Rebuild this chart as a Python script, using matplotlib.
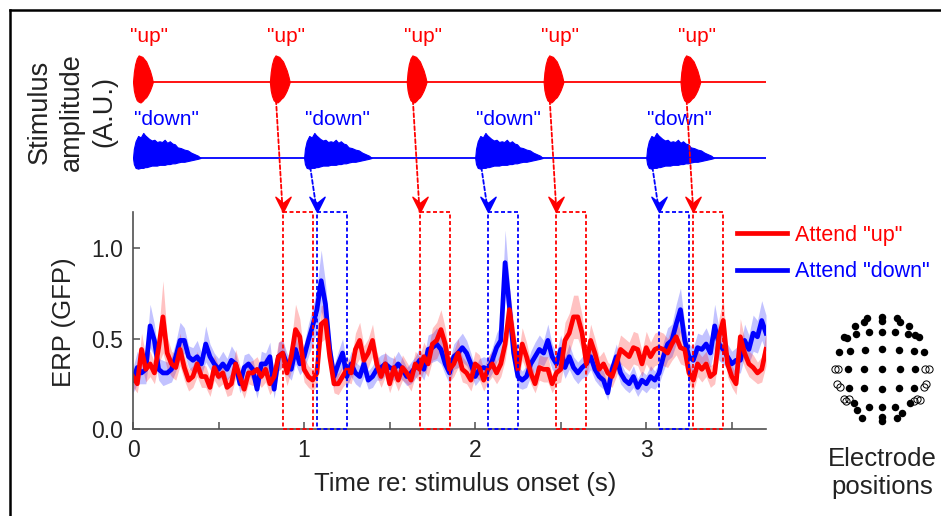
import numpy as np
import matplotlib
matplotlib.use("Agg")
import matplotlib.pyplot as plt
from matplotlib.patches import Rectangle, ConnectionPatch
from matplotlib.lines import Line2D
from matplotlib.path import Path

plt.rcParams["font.family"] = ["Liberation Sans", "DejaVu Sans"]

RED = "#ff0000"
BLUE = "#0000ff"
GREY = "#505050"

# ─────────────────────────────────────────────────────────────────
# DATA
# ─────────────────────────────────────────────────────────────────

UP_ONSETS = [0.0, 0.8, 1.6, 2.4, 3.2]
DOWN_ONSETS = [0.0, 1.0, 2.0, 3.0]

# syllable envelopes (A.U.), time re: syllable onset
UP_ENV_T = [0, 0.005, 0.012, 0.022, 0.033, 0.044, 0.055, 0.066, 0.077, 0.088, 0.099, 0.109, 0.116]
UP_ENV_HI = [0.0, 0.13, 0.23, 0.31, 0.35, 0.34, 0.33, 0.30, 0.27, 0.21, 0.15, 0.07, 0.0]
UP_ENV_LO = [0.0, 0.11, 0.18, 0.24, 0.26, 0.27, 0.25, 0.22, 0.20, 0.16, 0.11, 0.05, 0.0]

DOWN_ENV_T = [0, 0.005, 0.015, 0.03, 0.045, 0.06, 0.07, 0.08, 0.095, 0.11, 0.125,
              0.14, 0.155, 0.17, 0.185, 0.2, 0.215, 0.23, 0.245, 0.26, 0.28, 0.3,
              0.32, 0.34, 0.36, 0.38, 0.395]
DOWN_ENV_HI = [0, 0.12, 0.22, 0.29, 0.27, 0.33, 0.30, 0.28, 0.25, 0.23, 0.24, 0.21,
               0.22, 0.21, 0.24, 0.20, 0.22, 0.19, 0.18, 0.14, 0.13, 0.11, 0.10,
               0.07, 0.05, 0.03, 0.0]
DOWN_ENV_LO = [0, 0.08, 0.13, 0.14, 0.13, 0.13, 0.12, 0.12, 0.11, 0.10, 0.10, 0.10,
               0.09, 0.09, 0.09, 0.08, 0.08, 0.07, 0.07, 0.06, 0.05, 0.05, 0.04,
               0.03, 0.02, 0.01, 0.0]

# ERP global field power, sampled every 25 ms from 0 to 3.7 s
TIME = np.round(np.arange(149) * 0.025, 3)

RED_MEAN = np.array([
    0.29, 0.25, 0.44, 0.33, 0.36, 0.31, 0.45, 0.62, 0.42, 0.36,
    0.34, 0.44, 0.34, 0.27, 0.29, 0.36, 0.29, 0.29, 0.23, 0.34,
    0.29, 0.31, 0.23, 0.25, 0.36, 0.29, 0.22, 0.31, 0.31, 0.33,
    0.29, 0.33, 0.25, 0.29, 0.40, 0.42, 0.31, 0.40, 0.55, 0.51,
    0.33, 0.29, 0.27, 0.31, 0.58, 0.60, 0.40, 0.25, 0.25, 0.29,
    0.33, 0.31, 0.44, 0.49, 0.38, 0.42, 0.49, 0.36, 0.29, 0.36,
    0.25, 0.34, 0.27, 0.34, 0.31, 0.27, 0.36, 0.33, 0.40, 0.36,
    0.47, 0.49, 0.55, 0.47, 0.33, 0.36, 0.42, 0.33, 0.31, 0.27,
    0.36, 0.34, 0.27, 0.33, 0.36, 0.31, 0.36, 0.47, 0.66, 0.49,
    0.33, 0.47, 0.40, 0.31, 0.25, 0.34, 0.33, 0.33, 0.25, 0.31,
    0.33, 0.49, 0.53, 0.62, 0.62, 0.53, 0.36, 0.49, 0.42, 0.33,
    0.36, 0.31, 0.29, 0.36, 0.44, 0.42, 0.40, 0.45, 0.44, 0.36,
    0.45, 0.40, 0.44, 0.45, 0.44, 0.42, 0.47, 0.51, 0.45, 0.44,
    0.31, 0.27, 0.36, 0.33, 0.36, 0.29, 0.31, 0.51, 0.60, 0.36,
    0.29, 0.25, 0.51, 0.42, 0.36, 0.34, 0.31, 0.33, 0.44,
])
RED_SEM = np.array([
    0.06, 0.05, 0.09, 0.07, 0.07, 0.06, 0.09, 0.20, 0.09, 0.07,
    0.07, 0.09, 0.07, 0.06, 0.06, 0.07, 0.06, 0.06, 0.05, 0.07,
    0.06, 0.06, 0.05, 0.06, 0.08, 0.06, 0.05, 0.06, 0.07, 0.07,
    0.06, 0.07, 0.06, 0.06, 0.08, 0.08, 0.07, 0.08, 0.14, 0.10,
    0.07, 0.06, 0.06, 0.07, 0.10, 0.10, 0.08, 0.05, 0.06, 0.06,
    0.07, 0.06, 0.09, 0.10, 0.08, 0.08, 0.09, 0.07, 0.06, 0.07,
    0.05, 0.07, 0.06, 0.07, 0.06, 0.06, 0.07, 0.07, 0.08, 0.07,
    0.09, 0.10, 0.11, 0.09, 0.07, 0.07, 0.08, 0.07, 0.06, 0.06,
    0.07, 0.07, 0.06, 0.07, 0.07, 0.06, 0.07, 0.09, 0.12, 0.10,
    0.07, 0.09, 0.08, 0.06, 0.05, 0.07, 0.07, 0.07, 0.05, 0.06,
    0.07, 0.10, 0.11, 0.12, 0.12, 0.10, 0.07, 0.09, 0.08, 0.07,
    0.07, 0.06, 0.06, 0.07, 0.08, 0.08, 0.08, 0.09, 0.09, 0.07,
    0.09, 0.08, 0.09, 0.09, 0.09, 0.08, 0.09, 0.10, 0.09, 0.09,
    0.06, 0.06, 0.07, 0.07, 0.07, 0.06, 0.06, 0.10, 0.12, 0.07,
    0.06, 0.06, 0.10, 0.08, 0.07, 0.07, 0.06, 0.07, 0.09,
])
BLUE_MEAN = np.array([
    0.27, 0.34, 0.31, 0.33, 0.57, 0.49, 0.33, 0.31, 0.31, 0.33,
    0.40, 0.49, 0.49, 0.40, 0.38, 0.40, 0.36, 0.47, 0.40, 0.36,
    0.33, 0.36, 0.33, 0.38, 0.36, 0.25, 0.34, 0.36, 0.33, 0.22,
    0.36, 0.36, 0.40, 0.22, 0.40, 0.42, 0.36, 0.33, 0.44, 0.36,
    0.40, 0.49, 0.57, 0.66, 0.82, 0.69, 0.44, 0.29, 0.36, 0.42,
    0.29, 0.36, 0.31, 0.29, 0.36, 0.27, 0.29, 0.33, 0.34, 0.36,
    0.34, 0.33, 0.36, 0.33, 0.29, 0.31, 0.34, 0.38, 0.33, 0.44,
    0.45, 0.47, 0.44, 0.36, 0.31, 0.40, 0.42, 0.45, 0.42, 0.36,
    0.29, 0.33, 0.34, 0.33, 0.38, 0.45, 0.49, 0.92, 0.68, 0.42,
    0.29, 0.27, 0.29, 0.36, 0.40, 0.44, 0.42, 0.49, 0.40, 0.36,
    0.44, 0.34, 0.40, 0.34, 0.31, 0.34, 0.36, 0.40, 0.33, 0.29,
    0.27, 0.20, 0.33, 0.40, 0.31, 0.27, 0.25, 0.29, 0.23, 0.27,
    0.25, 0.29, 0.27, 0.31, 0.40, 0.47, 0.49, 0.58, 0.66, 0.49,
    0.40, 0.38, 0.45, 0.44, 0.47, 0.42, 0.57, 0.47, 0.44, 0.40,
    0.36, 0.38, 0.38, 0.49, 0.44, 0.53, 0.51, 0.60, 0.53,
])
BLUE_SEM = np.array([
    0.07, 0.09, 0.06, 0.08, 0.12, 0.09, 0.06, 0.07, 0.06, 0.07,
    0.08, 0.10, 0.07, 0.06, 0.07, 0.09, 0.06, 0.10, 0.07, 0.06,
    0.06, 0.07, 0.06, 0.08, 0.06, 0.05, 0.07, 0.06, 0.06, 0.05,
    0.07, 0.06, 0.08, 0.05, 0.08, 0.07, 0.06, 0.06, 0.08, 0.06,
    0.07, 0.09, 0.10, 0.12, 0.17, 0.12, 0.08, 0.06, 0.07, 0.08,
    0.06, 0.07, 0.06, 0.06, 0.07, 0.05, 0.06, 0.06, 0.07, 0.06,
    0.06, 0.06, 0.07, 0.06, 0.05, 0.06, 0.06, 0.07, 0.06, 0.08,
    0.08, 0.09, 0.08, 0.06, 0.06, 0.07, 0.08, 0.08, 0.07, 0.06,
    0.05, 0.06, 0.06, 0.06, 0.07, 0.08, 0.09, 0.18, 0.12, 0.08,
    0.06, 0.05, 0.06, 0.07, 0.08, 0.08, 0.07, 0.09, 0.07, 0.06,
    0.08, 0.06, 0.07, 0.06, 0.06, 0.06, 0.07, 0.07, 0.06, 0.05,
    0.05, 0.04, 0.06, 0.07, 0.06, 0.05, 0.05, 0.06, 0.05, 0.05,
    0.05, 0.06, 0.05, 0.06, 0.08, 0.09, 0.09, 0.11, 0.12, 0.09,
    0.07, 0.07, 0.08, 0.08, 0.09, 0.08, 0.12, 0.09, 0.08, 0.07,
    0.07, 0.07, 0.07, 0.09, 0.08, 0.10, 0.09, 0.11, 0.10,
])

# electrode layout (filled = used, open = excluded), arbitrary head units
ELEC_X = [0, 0, -15, -18, -27, 15, 18, 27, -13, 0, 13, -26, 26, -38, -35, 37, 33,
          -43, -32, -17, 0, 17, 32, 42, -34, -18, 0, 18, 33,
          -33, -18, 0, 17, 32, -28, -13, 0, 13, 28, -25, -20, 0, 0, 15, 20]
ELEC_Y = [52, 48, 51, 47, 43, 51, 47, 43, 37, 37, 37, 35, 35, 32, 31, 32, 34,
          17, 18, 19, 20, 19, 18, 17, 0, 0, 0, 0, 0,
          -19, -19, -20, -19, -19, -34, -38, -38, -38, -34, -41, -49, -48, -52, -49, -44]
EXCL_X = [-47, -44, 43, 47, -45, -42, 42, 44, -38, -36, -33, 32, 35, 38]
EXCL_Y = [0, 0, 0, 0, -15, -18, -18, -15, -30, -32, -30, -32, -30, -31]

WIN_START = 0.075   # analysis window re: syllable onset (s)
WIN_LEN = 0.175

# ─────────────────────────────────────────────────────────────────
# FIGURE
# ─────────────────────────────────────────────────────────────────

W, H = 941, 516
fig = plt.figure(figsize=(W / 100, H / 100), dpi=100, facecolor="white")


def fx(px):
    return px / W


def fy(py):
    return 1 - py / H


# outer frame (top and left edges only are visible)
fig.add_artist(Line2D([fx(10), 1], [fy(10), fy(10)], color="black", lw=1.8))
fig.add_artist(Line2D([fx(10), fx(10)], [fy(10), 0], color="black", lw=1.8))

# ── Stimulus panel ──────────────────────────────────────────────
sax = fig.add_axes([fx(133), fy(190), fx(766) - fx(133), fy(30) - fy(190)])
sax.set_xlim(0, 3.7)
sax.set_ylim(-0.421, 1.684)
sax.axis("off")

sax.plot([0, 3.7], [1, 1], color=RED, lw=1.3)
sax.plot([0, 3.7], [0, 0], color=BLUE, lw=1.3)
for on in UP_ONSETS:
    t = np.array(UP_ENV_T) + on
    sax.fill_between(t, 1 - np.array(UP_ENV_LO), 1 + np.array(UP_ENV_HI),
                     color=RED, lw=0.8, edgecolor=RED)
    sax.text(on - 0.015, 1.592, '"up"', color=RED, fontsize=15,
             ha="left", va="center")
for on in DOWN_ONSETS:
    t = np.array(DOWN_ENV_T) + on
    sax.fill_between(t, -np.array(DOWN_ENV_LO), np.array(DOWN_ENV_HI),
                     color=BLUE, lw=0.8, edgecolor=BLUE)
    sax.text(on + 0.005, 0.5, '"down"', color=BLUE, fontsize=15,
             ha="left", va="center")

fig.text(fx(72), fy(112), "Stimulus\namplitude\n(A.U.)", rotation=90,
         ha="center", va="center", multialignment="center",
         fontsize=19.5, linespacing=1.3, color="#222222")

# ── ERP panel ───────────────────────────────────────────────────
ax = fig.add_axes([fx(133), fy(429), fx(766) - fx(133), fy(212) - fy(429)])
ax.set_xlim(0, 3.7)
ax.set_ylim(0, 1.2)

ax.fill_between(TIME, BLUE_MEAN - BLUE_SEM, BLUE_MEAN + BLUE_SEM,
                color=BLUE, alpha=0.24, lw=0)
ax.fill_between(TIME, RED_MEAN - RED_SEM, RED_MEAN + RED_SEM,
                color=RED, alpha=0.24, lw=0)
h_blue, = ax.plot(TIME, BLUE_MEAN, color=BLUE, lw=3.4, label='Attend "down"')
h_red, = ax.plot(TIME, RED_MEAN, color=RED, lw=3.4, label='Attend "up"')

for s in ("top", "right"):
    ax.spines[s].set_visible(False)
for s in ("left", "bottom"):
    ax.spines[s].set_color(GREY)
    ax.spines[s].set_linewidth(1.2)

ax.set_xticks([0, 1, 2, 3])
ax.set_xticklabels(["0", "1", "2", "3"])
ax.set_xticks([0.5, 1.5, 2.5, 3.5], minor=True)
ax.set_yticks([0, 0.5, 1.0])
ax.set_yticklabels(["0.0", "0.5", "1.0"])
ax.tick_params(which="both", direction="in", length=5, width=1.1,
               color=GREY, labelsize=16.5, labelcolor="#222222", pad=7)

ax.set_xlabel("Time re: stimulus onset (s)", fontsize=18.5, color="#222222")
ax.xaxis.set_label_coords(0.524, -0.2)
ax.set_ylabel("ERP (GFP)", fontsize=18.5, color="#222222")
ax.yaxis.set_label_coords(-0.09, 0.493)

leg = ax.legend(handles=[h_red, h_blue], loc="upper left",
                bbox_to_anchor=(fx(737), fy(225)), bbox_transform=fig.transFigure,
                frameon=False, fontsize=15.5, handlelength=2.3, handletextpad=0.4,
                labelspacing=0.7, borderpad=0, borderaxespad=0,
                labelcolor="linecolor")
for ln in leg.get_lines():
    ln.set_linewidth(3.4)

# analysis windows and arrows from each attended syllable
DASH = (0, (2.2, 1.4))
ARROW = Path([(0, 0), (-0.5, 1.0), (0, 0.6), (0.5, 1.0), (0, 0)],
             [Path.MOVETO, Path.LINETO, Path.LINETO, Path.LINETO, Path.CLOSEPOLY])

for onsets, col, y0 in ((UP_ONSETS, RED, 1 - 0.24), (DOWN_ONSETS, BLUE, -0.12)):
    for on in onsets[1:]:
        x0 = on + WIN_START
        ax.add_patch(Rectangle((x0, 0), WIN_LEN, 1.2, fill=False, ec=col,
                               ls=DASH, lw=1.3, clip_on=False, zorder=6))
        con = ConnectionPatch(xyA=(on + 0.036, y0), coordsA=sax.transData,
                              xyB=(x0, 1.2), coordsB=ax.transData,
                              color=col, ls=DASH, lw=1.3, zorder=6)
        fig.add_artist(con)
        ax.plot([x0], [1.2], marker=ARROW, ms=22, color=col, mec=col,
                clip_on=False, zorder=7)

# ── Electrode montage ───────────────────────────────────────────
eax = fig.add_axes([fx(822), fy(429), fx(120), fy(0) - fy(120)])
eax.set_xlim(-60, 60)
eax.set_ylim(-60, 60)
eax.axis("off")
eax.plot(ELEC_X, ELEC_Y, "o", color="black", ms=5.4, mew=0)
eax.plot(EXCL_X, EXCL_Y, "o", mfc="none", mec="black", ms=5.2, mew=0.7)

fig.text(fx(882), fy(473), "Electrode\npositions", ha="center", va="center",
         fontsize=18.5, linespacing=1.25, color="#222222")

fig.savefig("out.png", dpi=100, facecolor="white")
